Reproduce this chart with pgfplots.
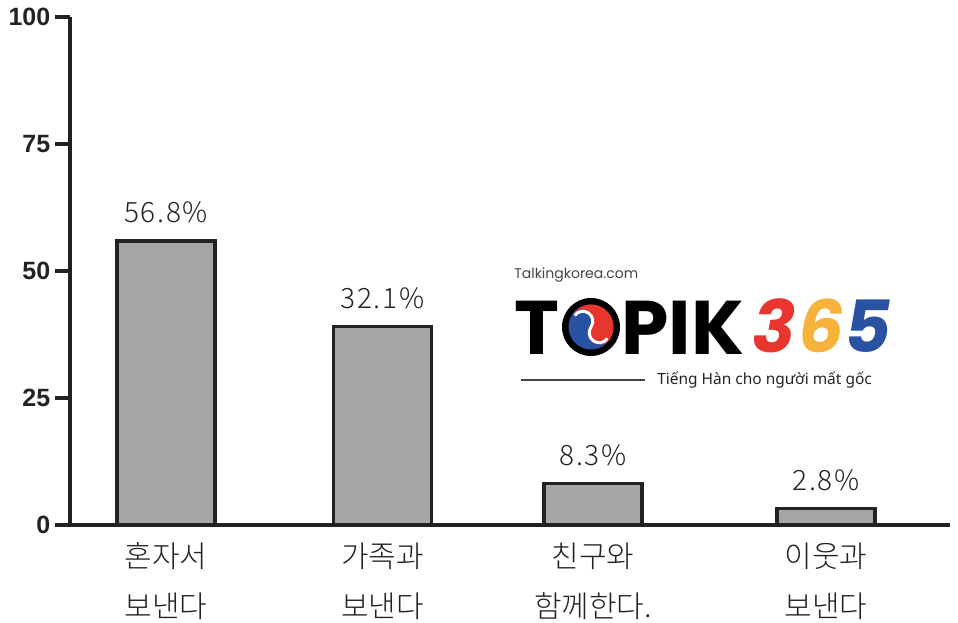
\documentclass[border=0pt]{standalone}
\usepackage{pgfplots}
\pgfplotsset{compat=1.18}
\usepackage{fontspec}
\setmainfont{Liberation Sans}
\IfFontExistsTF{Noto Sans CJK KR Light}{\newfontfamily\kr{Noto Sans CJK KR Light}}{\newfontfamily\kr{Noto Sans CJK KR}}
\newfontfamily\pop{Poppins}
\newfontfamily\viet{Noto Sans}
\definecolor{barfill}{HTML}{A6A6A6}
\definecolor{ink}{HTML}{222222}
\definecolor{tred}{HTML}{E8352D}
\definecolor{tyel}{HTML}{F7B23B}
\definecolor{tblue}{HTML}{2952A3}
\definecolor{txtgray}{HTML}{444444}
\begin{document}
\begin{tikzpicture}
\path[use as bounding box] (0,0) rectangle (718.5pt,-467.25pt);
\begin{axis}[
  at={(52.5pt,-393.75pt)}, anchor=south west,
  scale only axis, width=660pt, height=381pt,
  xmin=70, xmax=950, ymin=0, ymax=100,
  axis x line=bottom, axis y line=left,
  axis line style={-, line width=2.4pt, draw=ink},
  ytick={0,25,50,75,100},
  ytick style={line width=2.4pt, draw=ink},
  tick align=outside, major tick length=11.25pt,
  xtick={166,382.5,593,826},
  xticklabels={{혼자서\\보낸다},{가족과\\보낸다},{친구와\\함께한다.},{이웃과\\보낸다}},
  xtick style={draw=none},
  xticklabel style={font=\kr\fontsize{22.5}{37.5}\selectfont, align=center, text=ink, yshift=1.5pt},
  yticklabel style={font=\fontsize{18.75}{20}\selectfont\bfseries, text=ink},
  /pgf/number format/assume math mode=true,
  ybar, bar width=98,
  point meta=explicit symbolic,
  nodes near coords={\pgfplotspointmeta\%},
  every node near coord/.append style={font=\kr\fontsize{21}{24}\selectfont\addfontfeatures{LetterSpace=6}, text=ink, inner sep=0pt, yshift=12.5pt},
  clip=false,
]
\addplot[fill=barfill, draw=ink, line width=2.4pt] table[meta=lab] {
x y lab
166 55.9 56.8
382.5 39.0 32.1
593 8.1 8.3
826 3.2 2.8
};
\end{axis}
\begin{scope}[x=0.75pt,y=-0.75pt]
  \node[anchor=base west, font=\pop\fontsize{10.5}{12}\selectfont, text=txtgray, inner sep=0pt] at (514,279) {Talkingkorea.com};
  \node[anchor=base west, font=\pop\bfseries\fontsize{57}{57}\selectfont, inner sep=0pt] at (514,355) {T};
  \node[anchor=base west, font=\pop\bfseries\fontsize{57}{57}\selectfont, inner sep=0pt] at (621,355) {PIK};
  \fill[black] (591,327) circle (29);
  \begin{scope}[shift={(591,327)}, x=0.75pt, y=0.75pt, rotate=-35]
    \fill[tblue] (0,0) circle (22.5);
    \fill[tred] (-22.5,0) arc[start angle=180, end angle=0, radius=22.5]
      arc[start angle=0, end angle=-180, radius=11.25]
      arc[start angle=0, end angle=180, radius=11.25] -- cycle;
    \draw[white, line width=2.2pt] (-20,0) arc[start angle=180, end angle=0, radius=10] arc[start angle=180, end angle=360, radius=10];
  \end{scope}
  \node[anchor=base, font=\pop\bfseries\itshape\fontsize{54}{54}\selectfont, text=tred, inner sep=0pt] at (774,353) {3};
  \node[anchor=base, font=\pop\bfseries\itshape\fontsize{54}{54}\selectfont, text=tyel, inner sep=0pt] at (821,353) {6};
  \node[anchor=base, font=\pop\bfseries\itshape\fontsize{54}{54}\selectfont, text=tblue, inner sep=0pt] at (868,353) {5};
  \draw[line width=1.4pt, draw=txtgray] (521,380) -- (645,380);
  \node[anchor=base west, font=\viet\fontsize{11.6}{13}\selectfont, text=ink, inner sep=0pt] at (657,385) {Tiếng Hàn cho người mất gốc};
\end{scope}
\end{tikzpicture}
\end{document}
